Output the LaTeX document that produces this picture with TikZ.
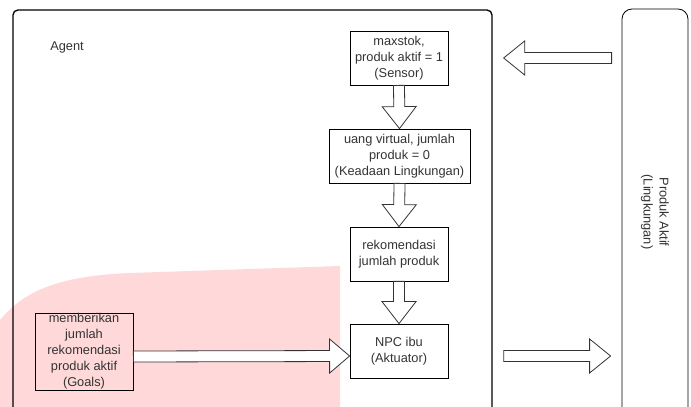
\documentclass[tikz,border=0pt]{standalone}
\usepackage{fontspec}
\setmainfont{Liberation Sans}
\usetikzlibrary{positioning,calc}
\definecolor{rosa}{RGB}{255,217,217}
\definecolor{dunkel}{RGB}{51,51,51}

\newcommand{\blockpfeil}[3][22pt]{%
    \coordinate (pa) at (#2);
    \coordinate (pb) at (#3);
    \coordinate (ph) at ($(pb)!#1!(pa)$);
    \draw[pfeil] ($(pa)!5.5pt!90:(pb)$) -- ($(ph)!5.5pt!-90:(pa)$) -- ($(ph)!17pt!-90:(pa)$)
        -- (pb) -- ($(ph)!17pt!90:(pa)$) -- ($(ph)!5.5pt!90:(pa)$) -- ($(pa)!5.5pt!-90:(pb)$) -- cycle;
}

\begin{document}
\begin{tikzpicture}[x=1pt,y=1pt,
    schrift/.style={text=dunkel,font=\fontsize{12.8}{16}\selectfont},
    kasten/.style={schrift,draw=black,line width=0.8pt,align=center,inner sep=0pt,
        minimum width=98pt,minimum height=54pt},
    pfeil/.style={draw=dunkel,line width=0.8pt,fill=white}]
    \useasboundingbox (0,0) rectangle (691,407);
    \clip (0,0) rectangle (691,407);

    \fill[rosa] (0,87) .. controls (25,117) and (60,131) .. (130,134) -- (340,141)
        -- (340,-5) -- (0,-5) -- cycle;

    \node[draw=black,line width=1.3pt,rounded corners=5pt,minimum width=479pt,
        minimum height=405pt,inner sep=0pt] (agent) at (252.5,194.5) {};
    \node[schrift] (agentlabel) at (67,360) {Agent};

    \node[draw=black,line width=0.8pt,rounded corners=10pt,minimum width=66pt,
        minimum height=410pt,inner sep=0pt] (umwelt) at (655,193) {};
    \node[schrift,rotate=-90,align=center] (umweltlabel) at (655,195) {Produk Aktif\\(Lingkungan)};

    \node[kasten] (sensor) at (399,349) {maxstok,\\produk aktif = 1\\(Sensor)};
    \node[kasten,minimum width=141pt] (keadaan) at (399.5,251) {uang virtual, jumlah\\produk = 0\\(Keadaan Lingkungan)};
    \node[kasten] (rekom) at (399,153) {rekomendasi\\jumlah produk};
    \node[kasten] (npc) at (399,56) {NPC ibu\\(Aktuator)};
    \node[kasten,minimum height=77pt] (goals) at (84,55.5) {memberikan\\jumlah\\rekomendasi\\produk aktif\\(Goals)};

    \blockpfeil{sensor.south}{keadaan.north}
    \blockpfeil{keadaan.south}{rekom.north}
    \blockpfeil{rekom.south}{npc.north}
    \blockpfeil[20pt]{$(goals.east)+(0,-5)$}{$(npc.west)+(0,-5)$}
    \blockpfeil[21pt]{$(umwelt.west |- sensor)+(-10,0)$}{$(agent.east |- sensor)+(11,0)$}
    \blockpfeil[21pt]{$(agent.east |- npc)+(11,-5)$}{$(umwelt.west |- npc)+(-11,-5)$}
\end{tikzpicture}
\end{document}
